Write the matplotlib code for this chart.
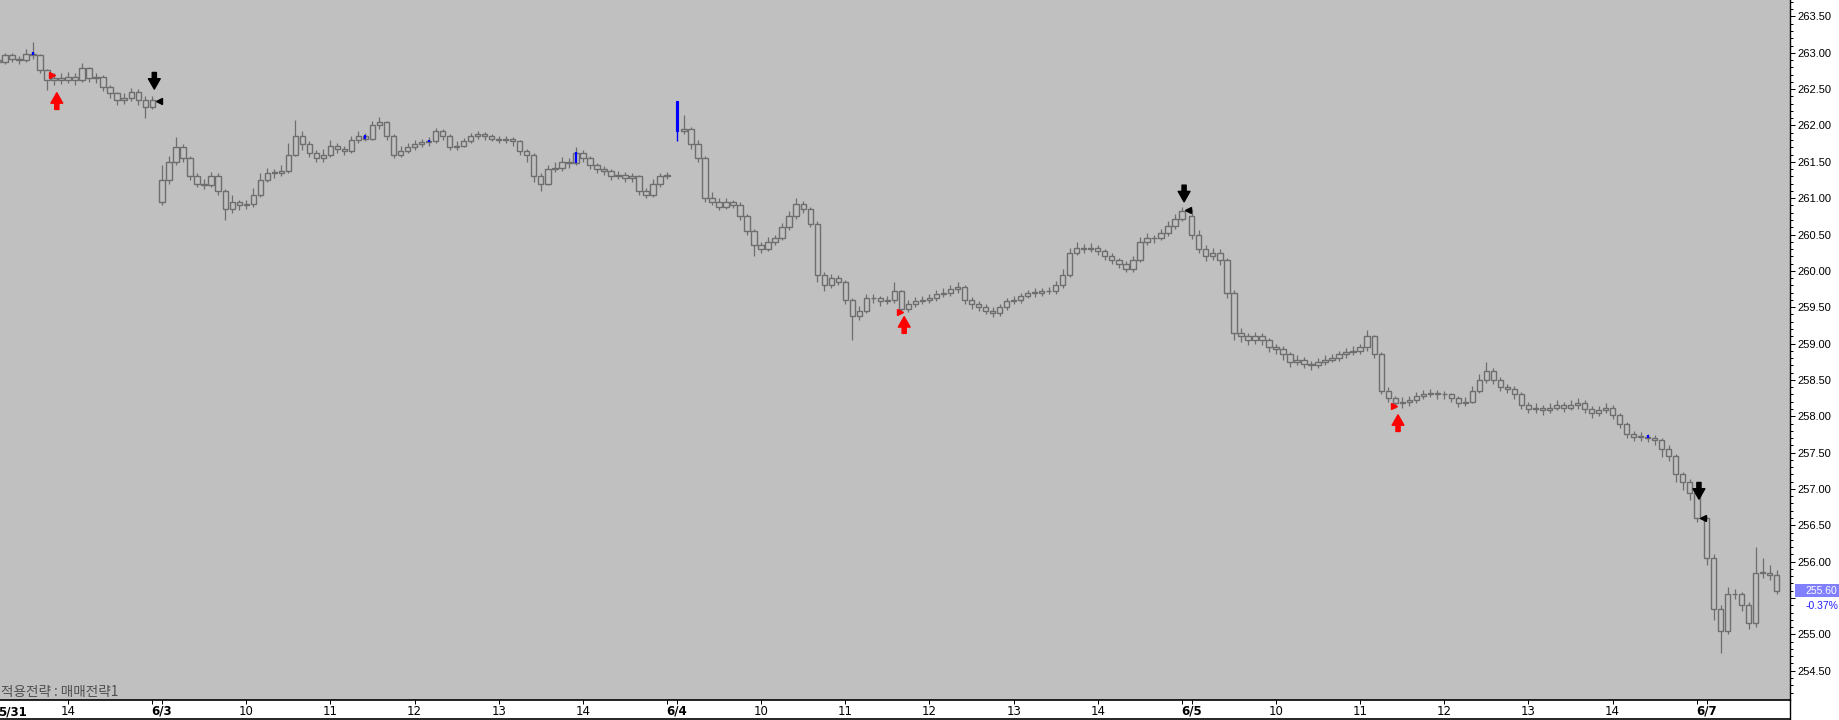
import numpy as np
import matplotlib
matplotlib.use("Agg")
import matplotlib.pyplot as plt
from matplotlib.lines import Line2D
from matplotlib.patches import Rectangle
from matplotlib.ticker import FuncFormatter

PLOT_BG = "#c0c0c0"
CANDLE_GRAY = "#6e6e6e"
SIG_RED = "#ff0000"
SIG_BLUE = "#0000ff"
W, H = 1839, 720

# --- sessions : x en minutes de seance (6/3 09:00 = 0, une seance = 367 min) ---
DAY_LABELS = ["5/31", "6/3", "6/4", "6/5", "6/7"]
DAY_START = [-367, 0, 367, 734, 1101]
FIRST_BAR = [50, 0, 0, 0, 0]
OPEN_PRICE = [262.90, 260.95, 262.33, 260.75, 256.60]
BAR_MIN = 5

CLOSE_0531 = [262.88, 262.97, 262.92, 262.90, 262.99, 262.97, 262.76, 262.62, 262.65, 262.62,
              262.67, 262.62, 262.79, 262.65, 262.67, 262.53, 262.44, 262.35, 262.38, 262.46,
              262.35, 262.26, 262.35]
HIGH_0531 = [262.98, 263.00, 263.00, 262.96, 263.05, 263.15, 262.98, 262.78, 262.72, 262.72,
             262.74, 262.72, 262.86, 262.80, 262.72, 262.70, 262.56, 262.46, 262.45, 262.52,
             262.50, 262.40, 262.40]
LOW_0531 = [262.84, 262.85, 262.88, 262.84, 262.88, 262.92, 262.72, 262.49, 262.55, 262.57,
            262.58, 262.56, 262.60, 262.60, 262.58, 262.48, 262.38, 262.28, 262.30, 262.34,
            262.28, 262.10, 262.22]

CLOSE_0603 = [261.25, 261.50, 261.70, 261.55, 261.30, 261.20, 261.18, 261.30, 261.10, 260.85,
              260.95, 260.90, 260.92, 261.05, 261.25, 261.35, 261.35, 261.38, 261.60, 261.85,
              261.75, 261.62, 261.55, 261.60, 261.72, 261.68, 261.65, 261.80, 261.85, 261.82,
              262.00, 262.05, 261.85, 261.60, 261.65, 261.70, 261.75, 261.77, 261.78, 261.92,
              261.85, 261.70, 261.72, 261.78, 261.85, 261.88, 261.85, 261.82, 261.80, 261.82,
              261.78, 261.65, 261.60, 261.30, 261.20, 261.40, 261.42, 261.50, 261.48, 261.62,
              261.55, 261.45, 261.40, 261.38, 261.30, 261.32, 261.28, 261.30, 261.10, 261.05,
              261.20, 261.30, 261.32]
HIGH_0603 = [261.45, 261.58, 261.84, 261.74, 261.58, 261.35, 261.26, 261.36, 261.34, 261.12,
             261.04, 260.98, 260.97, 261.14, 261.34, 261.42, 261.40, 261.45, 261.76, 262.08,
             261.92, 261.78, 261.66, 261.68, 261.80, 261.76, 261.72, 261.86, 261.92, 261.90,
             262.06, 262.12, 262.06, 261.88, 261.72, 261.76, 261.80, 261.82, 261.84, 261.97,
             261.95, 261.88, 261.78, 261.83, 261.90, 261.93, 261.91, 261.88, 261.86, 261.86,
             261.84, 261.80, 261.68, 261.62, 261.34, 261.46, 261.50, 261.56, 261.55, 261.70,
             261.66, 261.58, 261.48, 261.44, 261.40, 261.38, 261.36, 261.35, 261.32, 261.14,
             261.26, 261.34, 261.36]
LOW_0603 = [260.90, 261.20, 261.45, 261.50, 261.25, 261.15, 261.12, 261.15, 261.05, 260.70,
            260.80, 260.84, 260.85, 260.88, 261.02, 261.22, 261.28, 261.30, 261.35, 261.58,
            261.66, 261.56, 261.50, 261.50, 261.56, 261.62, 261.60, 261.62, 261.76, 261.78,
            261.80, 261.95, 261.80, 261.55, 261.56, 261.62, 261.66, 261.70, 261.72, 261.76,
            261.80, 261.66, 261.66, 261.70, 261.76, 261.82, 261.80, 261.78, 261.76, 261.76,
            261.72, 261.60, 261.50, 261.22, 261.10, 261.18, 261.36, 261.38, 261.42, 261.45,
            261.50, 261.40, 261.35, 261.32, 261.25, 261.26, 261.22, 261.22, 261.05, 261.00,
            261.02, 261.16, 261.26]

CLOSE_0604 = [261.92, 261.95, 261.75, 261.55, 261.00, 260.95, 260.88, 260.95, 260.90, 260.75,
              260.55, 260.35, 260.30, 260.40, 260.45, 260.60, 260.75, 260.92, 260.85, 260.65,
              259.95, 259.80, 259.90, 259.85, 259.60, 259.38, 259.45, 259.62, 259.62, 259.58,
              259.60, 259.72, 259.47, 259.55, 259.58, 259.60, 259.62, 259.68, 259.70, 259.75,
              259.78, 259.60, 259.55, 259.50, 259.45, 259.42, 259.50, 259.58, 259.60, 259.65,
              259.70, 259.70, 259.72, 259.72, 259.80, 259.95, 260.25, 260.32, 260.30, 260.32,
              260.28, 260.20, 260.15, 260.10, 260.02, 260.15, 260.40, 260.45, 260.45, 260.52,
              260.62, 260.72, 260.82]
HIGH_0604 = [262.33, 262.15, 261.98, 261.80, 261.58, 261.08, 261.00, 261.00, 260.98, 260.95,
             260.78, 260.58, 260.40, 260.46, 260.50, 260.66, 260.82, 261.00, 260.96, 260.88,
             260.68, 259.98, 259.96, 259.95, 259.88, 259.62, 259.52, 259.68, 259.68, 259.66,
             259.66, 259.85, 259.74, 259.60, 259.64, 259.66, 259.68, 259.73, 259.76, 259.80,
             259.85, 259.80, 259.64, 259.58, 259.54, 259.50, 259.55, 259.63, 259.66, 259.70,
             259.74, 259.76, 259.77, 259.78, 259.86, 260.02, 260.32, 260.40, 260.37, 260.38,
             260.36, 260.30, 260.24, 260.18, 260.14, 260.20, 260.46, 260.52, 260.50, 260.58,
             260.68, 260.78, 260.88]
LOW_0604 = [261.79, 261.88, 261.68, 261.50, 260.95, 260.90, 260.84, 260.85, 260.86, 260.70,
            260.50, 260.20, 260.24, 260.28, 260.36, 260.42, 260.56, 260.72, 260.80, 260.60,
            259.85, 259.72, 259.76, 259.80, 259.55, 259.05, 259.32, 259.42, 259.56, 259.52,
            259.54, 259.56, 259.42, 259.44, 259.50, 259.54, 259.56, 259.58, 259.64, 259.66,
            259.70, 259.55, 259.48, 259.45, 259.40, 259.36, 259.38, 259.46, 259.54, 259.56,
            259.62, 259.64, 259.66, 259.68, 259.68, 259.76, 259.92, 260.22, 260.24, 260.26,
            260.22, 260.15, 260.10, 260.04, 259.98, 259.98, 260.12, 260.36, 260.38, 260.42,
            260.48, 260.58, 260.68]

CLOSE_0605 = [260.50, 260.30, 260.20, 260.25, 260.15, 259.70, 259.15, 259.10, 259.05, 259.10,
              259.05, 258.95, 258.92, 258.85, 258.75, 258.78, 258.72, 258.70, 258.75, 258.78,
              258.80, 258.85, 258.88, 258.90, 258.95, 259.10, 258.85, 258.35, 258.25, 258.18,
              258.20, 258.22, 258.28, 258.30, 258.32, 258.30, 258.30, 258.25, 258.18, 258.20,
              258.35, 258.50, 258.62, 258.50, 258.40, 258.38, 258.30, 258.15, 258.10, 258.12,
              258.08, 258.12, 258.15, 258.12, 258.15, 258.18, 258.10, 258.05, 258.08, 258.12,
              258.02, 257.90, 257.75, 257.72, 257.72, 257.70, 257.68, 257.55, 257.45, 257.20,
              257.10, 256.95, 256.60]
HIGH_0605 = [260.85, 260.56, 260.36, 260.32, 260.30, 260.18, 259.74, 259.22, 259.15, 259.16,
             259.14, 259.08, 259.00, 258.96, 258.88, 258.84, 258.82, 258.76, 258.80, 258.84,
             258.86, 258.90, 258.94, 258.96, 259.00, 259.18, 259.12, 258.88, 258.40, 258.28,
             258.26, 258.28, 258.34, 258.36, 258.37, 258.36, 258.35, 258.32, 258.28, 258.26,
             258.42, 258.58, 258.75, 258.66, 258.54, 258.45, 258.42, 258.34, 258.20, 258.18,
             258.16, 258.18, 258.22, 258.20, 258.22, 258.25, 258.22, 258.14, 258.14, 258.18,
             258.15, 258.05, 257.92, 257.80, 257.78, 257.76, 257.74, 257.70, 257.60, 257.48,
             257.24, 257.14, 256.98]
LOW_0605 = [260.44, 260.24, 260.14, 260.15, 260.08, 259.62, 259.05, 259.02, 258.98, 259.00,
            258.98, 258.88, 258.85, 258.78, 258.68, 258.70, 258.66, 258.64, 258.66, 258.70,
            258.74, 258.76, 258.80, 258.84, 258.86, 258.90, 258.80, 258.30, 258.20, 258.12,
            258.12, 258.14, 258.18, 258.24, 258.26, 258.24, 258.24, 258.20, 258.13, 258.14,
            258.18, 258.32, 258.46, 258.44, 258.35, 258.32, 258.24, 258.10, 258.04, 258.05,
            258.02, 258.04, 258.08, 258.06, 258.08, 258.10, 258.04, 257.98, 258.00, 258.04,
            257.96, 257.84, 257.70, 257.66, 257.66, 257.64, 257.60, 257.44, 257.38, 257.10,
            256.98, 256.85, 256.55]

CLOSE_0607 = [256.05, 255.35, 255.05, 255.55, 255.55, 255.40, 255.15, 255.85, 255.85, 255.82,
              255.60]
HIGH_0607 = [256.62, 256.10, 255.40, 255.65, 255.62, 255.58, 255.45, 256.20, 256.05, 255.95,
             255.88]
LOW_0607 = [255.95, 255.20, 254.75, 255.00, 255.48, 255.32, 255.08, 255.10, 255.78, 255.75,
            255.55]

CLOSES = [CLOSE_0531, CLOSE_0603, CLOSE_0604, CLOSE_0605, CLOSE_0607]
HIGHS = [HIGH_0531, HIGH_0603, HIGH_0604, HIGH_0605, HIGH_0607]
LOWS = [LOW_0531, LOW_0603, LOW_0604, LOW_0605, LOW_0607]

BLUE_BARS = [(0, 55), (1, 29), (1, 38), (1, 59), (2, 0), (3, 65)]
BIG_BLUE = (2, 0)
BUY_BARS = [(0, 58), (2, 32), (3, 29)]
BUY_FLAG = [262.69, 259.44, 258.14]
BUY_TIP = [262.45, 259.37, 258.02]
SELL_BARS = [(0, 72), (2, 72), (3, 72)]
SELL_FLAG = [262.33, 260.84, 256.60]
SELL_TIP = [262.50, 260.95, 256.86]

LAST_PRICE = 255.60
LAST_CHG = "-0.37%"


def session(k):
    c = np.array(CLOSES[k])
    idx = np.arange(FIRST_BAR[k], FIRST_BAR[k] + len(c))
    o = np.concatenate([[OPEN_PRICE[k]], c[:-1]])
    return idx, DAY_START[k] + BAR_MIN * idx, o, c, np.array(HIGHS[k]), np.array(LOWS[k])


fig = plt.figure(figsize=(W / 100, H / 100), dpi=100)
fig.patch.set_facecolor("white")
ax = fig.add_axes([0, 20 / H, 1790 / W, 700 / H])
ax.set_facecolor(PLOT_BG)

bodies = {}
for k in range(len(CLOSES)):
    idx, x, o, c, hi, lo = session(k)
    keep = np.array([(k, i) != BIG_BLUE for i in idx])
    top, bot = np.maximum(o, c), np.minimum(o, c)
    for j, i in enumerate(idx):
        bodies[(k, i)] = (x[j], o[j], c[j], hi[j], lo[j])
    ax.vlines(x[keep], top[keep], np.maximum(hi, top)[keep], color=CANDLE_GRAY, lw=0.9, zorder=2)
    ax.vlines(x[keep], np.minimum(lo, bot)[keep], bot[keep], color=CANDLE_GRAY, lw=0.9, zorder=2)
    ax.bar(x[keep], np.maximum(top - bot, 0.004)[keep], bottom=bot[keep], width=3.8,
           facecolor="none", edgecolor=CANDLE_GRAY, linewidth=1.0, zorder=2)

for k, i in BLUE_BARS:
    x, o, c, hi, lo = bodies[(k, i)]
    if (k, i) == BIG_BLUE:
        ax.vlines(x, lo, min(o, c), color=SIG_BLUE, lw=1.0, zorder=3)
        ax.bar(x, max(o, c) - min(o, c), bottom=min(o, c), width=1.8, color=SIG_BLUE,
               edgecolor=SIG_BLUE, linewidth=0.8, zorder=3)
    else:
        ax.vlines(x, min(o, c), max(o, c) + 0.02, color=SIG_BLUE, lw=1.6, zorder=3)

arrow_style = "simple,head_length=0.75,head_width=0.85,tail_width=0.3"
for (k, i), flag, tip in zip(BUY_BARS, BUY_FLAG, BUY_TIP):
    x = bodies[(k, i)][0]
    ax.plot(x - 1.2, flag, marker=">", ms=4.5, color=SIG_RED, mec=SIG_RED, zorder=4)
    ax.annotate("", xy=(x + 2, tip), xytext=(0, -12), textcoords="offset points",
                arrowprops=dict(arrowstyle=arrow_style, color=SIG_RED, shrinkA=0, shrinkB=0,
                                mutation_scale=10), zorder=4)
for (k, i), flag, tip in zip(SELL_BARS, SELL_FLAG, SELL_TIP):
    x = bodies[(k, i)][0]
    ax.plot(x + 4.5, flag, marker="<", ms=4.5, color="black", zorder=4)
    ax.annotate("", xy=(x + 1.5, tip), xytext=(0, 12), textcoords="offset points",
                arrowprops=dict(arrowstyle=arrow_style, color="black", shrinkA=0, shrinkB=0,
                                mutation_scale=10), zorder=4)

# --- axe des prix a droite (le libelle sous la boite du dernier prix est masque) ---
ax.yaxis.tick_right()
ax.set_yticks(np.arange(254.5, 263.51, 0.5))
ax.set_yticks(np.arange(254.2, 263.71, 0.1), minor=True)
ax.yaxis.set_major_formatter(
    FuncFormatter(lambda v, p: "" if abs(v - LAST_PRICE) < 0.2 else f"{v:.2f}"))
ax.tick_params(axis="y", which="major", direction="out", length=3.6, width=0.72,
               labelsize=8, pad=1.5, colors="black")
ax.tick_params(axis="y", which="minor", direction="out", length=2.2, width=0.72)
for t in ax.get_yticklabels():
    t.set_family(["Liberation Sans", "DejaVu Sans"])

# --- axe du temps ---
xt, xl = [], []
for s, lab in zip(DAY_START, DAY_LABELS):
    xt.append(s)
    xl.append(lab)
    for h in range(10, 16):
        xt.append(s + (h - 9) * 60)
        xl.append(str(h) if h < 15 else "")
ax.set_xticks(xt)
ax.set_xticklabels(xl)
ax.tick_params(axis="x", direction="out", length=3, width=0.72, labelsize=8.5, pad=0.5)
for t in ax.get_xticklabels():
    t.set_family(["Liberation Sans Narrow", "DejaVu Sans"])
    if "/" in t.get_text():
        t.set_fontweight("bold")

# limites apres les ticks (set_xticks les elargit)
ax.set_xlim(-115.5, 1160.4)
ax.set_ylim(254.097, 263.726)

for side in ["top", "left"]:
    ax.spines[side].set_visible(False)
ax.spines["right"].set_linewidth(1.0)
ax.spines["bottom"].set_linewidth(1.2)

fig.text(12 / W, 1 - 712 / H, DAY_LABELS[0], ha="center", va="center", fontsize=8.5,
         fontweight="bold", family=["Liberation Sans Narrow", "DejaVu Sans"])
fig.add_artist(Line2D([0, 1790 / W], [1 / H, 1 / H], color="black", lw=1.2))
fig.add_artist(Line2D([1790 / W, 1790 / W], [0, 20 / H], color="black", lw=1.0))

# --- dernier prix ---
fig.add_artist(Rectangle((1795 / W, 1 - 597 / H), 44 / W, 13 / H, transform=fig.transFigure,
                         facecolor="#8080ff", edgecolor="none"))
fig.text(1837 / W, 1 - 590.5 / H, f"{LAST_PRICE:.2f}", ha="right", va="center", fontsize=7.5,
         color="white", family=["Liberation Sans", "DejaVu Sans"])
fig.text(1838 / W, 1 - 606 / H, LAST_CHG, ha="right", va="center", fontsize=7.5,
         color="#2020ff", family=["Liberation Sans", "DejaVu Sans"])

fig.text(1 / W, 1 - 692 / H, "적용전략 : 매매전략1", ha="left", va="center", fontsize=9.8,
         color="#505050", family=["Noto Sans CJK KR", "DejaVu Sans"])

fig.savefig("out.png", dpi=100, facecolor="white")
